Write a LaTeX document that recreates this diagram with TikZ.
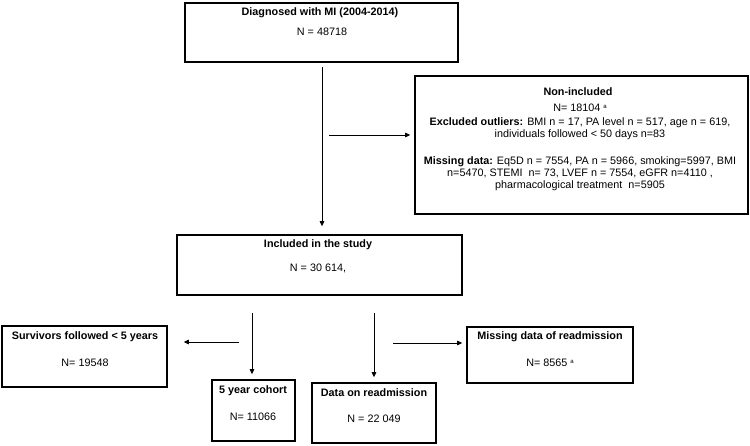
\documentclass[tikz,border=0pt]{standalone}
\usepackage{fontspec}
\setmainfont{Liberation Sans}
\usetikzlibrary{arrows.meta}
\newcommand{\supa}{\raisebox{3pt}{\fontsize{6}{6}\selectfont a}}
\begin{document}
\begin{tikzpicture}[x=1pt,y=-1pt,
  box/.style={draw,line width=1.6pt,inner sep=0pt},
  arr/.style={line width=0.9pt,-{Triangle[length=5pt,width=4.5pt]}},
  txt/.style={inner sep=0pt,font=\fontsize{10.8}{12}\selectfont,align=center}]
\useasboundingbox (0,0) rectangle (750,446);
% boxes
\node[box,minimum width=273pt,minimum height=59pt] (top) at (321.5,32.5) {};
\node[box,minimum width=333pt,minimum height=138pt] (nonin) at (581.5,145) {};
\node[box,minimum width=285pt,minimum height=60pt] (incl) at (319.5,265) {};
\node[box,minimum width=165pt,minimum height=61pt] (surv) at (84.5,356.5) {};
\node[box,minimum width=83pt,minimum height=61pt] (coh) at (253.5,410.5) {};
\node[box,minimum width=124pt,minimum height=60pt] (data) at (374,413) {};
\node[box,minimum width=166pt,minimum height=56pt] (miss) at (550,355) {};
% texts
\node[txt] (t1) at (320,13) {\textbf{Diagnosed with MI (2004-2014)}};
\node[txt] (t2) at (322,32) {N = 48718};
\node[txt] (t3) at (578,92) {\textbf{Non-included}};
\node[txt] (t4) at (580,108) {N= 18104 \supa};
\node[txt] (t5) at (580,129) {\textbf{Excluded outliers:} BMI n = 17, PA level n = 517, age n = 619,\\individuals followed < 50 days n=83};
\node[txt] (t6) at (580,174) {\textbf{Missing data:} Eq5D n = 7554, PA n = 5966, smoking=5997, BMI\\n=5470, STEMI\ \ n= 73, LVEF n = 7554, eGFR n=4110 ,\\pharmacological treatment\ \ n=5905};
\node[txt] (t7) at (318,245) {\textbf{Included in the study}};
\node[txt] (t8) at (318,268) {N = 30 614,};
\node[txt] (t9) at (85,337) {\textbf{Survivors followed < 5 years}};
\node[txt] (t10) at (85,363) {N= 19548};
\node[txt] (t11) at (253,391) {\textbf{5 year cohort}};
\node[txt] (t12) at (253,417) {N= 11066};
\node[txt] (t13) at (374,393) {\textbf{Data on readmission}};
\node[txt] (t14) at (374,419) {N = 22 049};
\node[txt] (t15) at (550,337) {\textbf{Missing data of readmission}};
\node[txt] (t16) at (550,363) {N= 8565 \supa};
% connector starts
\coordinate (v1) at (322,67);
\coordinate (h1) at (329,135);
\coordinate (h2) at (239,342);
\coordinate (v2) at (252,313);
\coordinate (v3) at (374,313);
\coordinate (h3) at (393,343);
% connectors
\draw[arr,shorten >=8pt] (v1) -- (v1 |- incl.north);
\draw[arr,shorten >=4pt] (h1) -- (h1 -| nonin.west);
\draw[arr,shorten >=16pt] (h2) -- (h2 -| surv.east);
\draw[arr,shorten >=5pt] (v2) -- (v2 |- coh.north);
\draw[arr,shorten >=5pt] (v3) -- (v3 |- data.north);
\draw[arr,shorten >=4pt] (h3) -- (h3 -| miss.west);
\end{tikzpicture}
\end{document}
